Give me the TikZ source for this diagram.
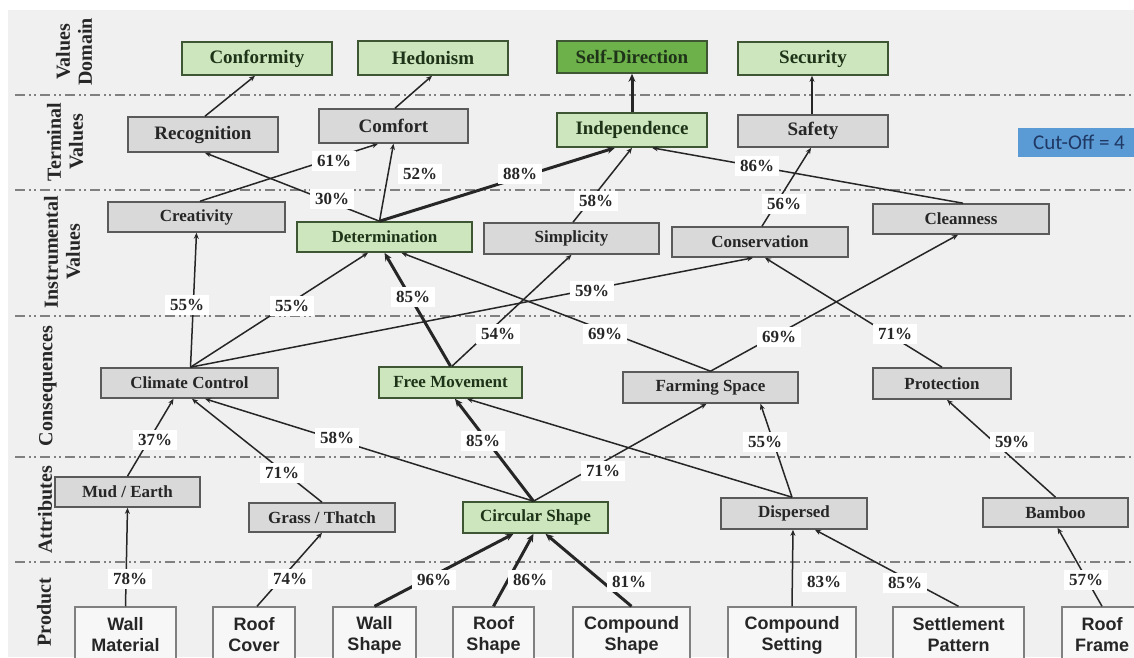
\documentclass[tikz,border=0pt]{standalone}
\usepackage{fontspec}
\setmainfont{Liberation Serif}
\newfontfamily\prodfont{Liberation Sans}
\newfontfamily\calfont{Carlito}
\usetikzlibrary{arrows.meta}

\definecolor{bgc}{HTML}{F0F0F0}
\definecolor{boxgray}{HTML}{D9D9D9}
\definecolor{boxline}{HTML}{5A5A5A}
\definecolor{boxtext}{HTML}{262626}
\definecolor{lgreen}{HTML}{CDE6BD}
\definecolor{dgreen}{HTML}{6DB14A}
\definecolor{gline}{HTML}{3E5634}
\definecolor{gtext}{HTML}{1E3318}
\definecolor{prodfill}{HTML}{F7F7F7}
\definecolor{prodline}{HTML}{808080}
\definecolor{lk}{HTML}{262626}
\definecolor{sepc}{HTML}{808080}
\definecolor{cutblue}{HTML}{5B9BD5}
\definecolor{cuttext}{HTML}{1F3864}

\begin{document}
\begin{tikzpicture}[x=1pt,y=-1pt,
  sz/.style 2 args={minimum width=#1, minimum height=#2},
  box/.style={draw=boxline, line width=1.6pt, fill=boxgray, text=boxtext,
    font=\bfseries\fontsize{17}{20}\selectfont, inner sep=0pt},
  bigbox/.style={box, font=\bfseries\fontsize{19}{22}\selectfont},
  greenbox/.style={fill=lgreen, draw=gline, text=gtext},
  darkgreen/.style={fill=dgreen, draw=gline, text=gtext},
  prod/.style={draw=prodline, line width=1.4pt, fill=prodfill, text=boxtext,
    font=\prodfont\bfseries\fontsize{18}{21}\selectfont, align=center,
    inner sep=0pt, minimum height=56pt},
  band/.style={rotate=90, align=center, text=boxtext,
    font=\bfseries\fontsize{20}{22}\selectfont, inner sep=0pt},
  pct/.style={fill=white, text=boxtext, font=\bfseries\fontsize{17}{20}\selectfont,
    inner xsep=5pt, inner ysep=4pt},
  sepline/.style={draw=sepc, line width=1.8pt,
    dash pattern=on 10pt off 4pt on 2pt off 3pt on 2pt off 4pt},
  link/.style={draw=lk, line width=1.5pt, -{Stealth[length=6pt,width=5pt]}},
  strong/.style={draw=lk, line width=3pt, -{Stealth[length=8pt,width=7pt]}},
  cut/.style={fill=cutblue, text=cuttext, font=\calfont\fontsize{21}{24}\selectfont,
    inner sep=0pt}
]
\useasboundingbox (0,0) rectangle (1134,657);
\fill[bgc] (8,10) rectangle (1134,657);

% level separators
\foreach \yy in {95,190,316,457,562}
  \draw[sepline] (15,\yy) -- (1134,\yy);

% level names
\node[band] (bandval)  at (74,52)  {Values\\Domain};
\node[band] (bandterm) at (65,142) {Terminal\\Values};
\node[band] (bandinst) at (62,252) {Instrumental\\Values};
\node[band] (bandcons) at (48,386) {Consequences};
\node[band] (bandattr) at (45,510) {Attributes};
\node[band] (bandprod) at (44,612) {Product};

% values domain
\node[bigbox, greenbox, sz={150pt}{33pt}] (conf)  at (257,58.5) {Conformity};
\node[bigbox, greenbox, sz={150pt}{34pt}] (hed)   at (433,58)   {Hedonism};
\node[bigbox, darkgreen, sz={150pt}{32pt}] (selfd) at (632,57)   {Self-Direction};
\node[bigbox, greenbox, sz={150pt}{33pt}] (sec)   at (813,58.5) {Security};

% terminal values
\node[bigbox, sz={150pt}{35pt}] (rec)   at (203,134.5) {Recognition};
\node[bigbox, sz={149pt}{34pt}] (comf)  at (393.5,126) {Comfort};
\node[bigbox, greenbox, sz={150pt}{34pt}] (indep) at (632,130) {Independence};
\node[bigbox, sz={150pt}{32pt}] (safe)  at (813,131)   {Safety};
\node[cut, sz={122pt}{29pt}] (cutoff) at (1079,142) {Cut-Off = 4};

% instrumental values
\node[box, sz={177pt}{30pt}] (crea)  at (196.5,217) {Creativity};
\node[box, greenbox, sz={175pt}{30pt}] (det) at (384.5,237) {Determination};
\node[box, sz={175pt}{31pt}] (simp)  at (571.5,238.5) {Simplicity};
\node[box, sz={176pt}{30pt}] (cons)  at (760,242) {Conservation};
\node[box, sz={176pt}{30pt}] (clean) at (961,219) {Cleanness};

% consequences
\node[box, sz={177pt}{30pt}] (clim) at (189.5,383) {Climate Control};
\node[box, greenbox, sz={143pt}{31pt}] (free) at (450.5,382.5) {Free Movement};
\node[box, sz={175pt}{31pt}] (farm) at (710.5,387.5) {Farming Space};
\node[box, sz={138pt}{31pt}] (prot) at (942,383.5) {Protection};

% attributes
\node[box, sz={145pt}{30pt}] (mud)   at (127.5,492) {Mud / Earth};
\node[box, sz={146pt}{29pt}] (grass) at (322,517.5) {Grass / Thatch};
\node[box, greenbox, sz={145pt}{31pt}] (circ) at (535.5,517.5) {Circular Shape};
\node[box, sz={146pt}{31pt}] (disp)  at (794,513.5) {Dispersed};
\node[box, sz={145pt}{29pt}] (bamb)  at (1055.5,512.5) {Bamboo};

% product
\node[prod, minimum width=101pt] (wallm)   at (125.5,635) {Wall\\Material};
\node[prod, minimum width=82pt]  (roofc)   at (254,635)   {Roof\\Cover};
\node[prod, minimum width=83pt]  (walls)   at (374.5,635) {Wall\\Shape};
\node[prod, minimum width=81pt]  (roofs)   at (493.5,635) {Roof\\Shape};
\node[prod, minimum width=117pt] (comps)   at (631.5,635) {Compound\\Shape};
\node[prod, minimum width=128pt] (compset) at (792,635)   {Compound\\Setting};
\node[prod, minimum width=131pt] (settle)  at (958.5,635) {Settlement\\Pattern};
\node[prod, minimum width=80pt]  (rooff)   at (1102,635)  {Roof\\Frame};

% links: terminal -> values domain
\draw[link] ([xshift=2pt]rec.north) -- ([xshift=-2pt]conf.south);
\draw[link] ([xshift=1.5pt]comf.north) -- ([xshift=-1pt]hed.south);
\draw[strong] (indep.north) -- (selfd.south);
\draw[link] ([xshift=-1pt]safe.north) -- ([xshift=-1pt]sec.south);

% links: instrumental -> terminal
\draw[link] ([xshift=3.5pt]crea.north) -- ([xshift=-15.5pt]comf.south);
\draw[link] ([xshift=-5pt]det.north) -- ([xshift=2pt]rec.south);
\draw[link] ([xshift=-5pt]det.north) -- (comf.south);
\draw[strong] ([xshift=-5pt]det.north) -- ([xshift=-17pt]indep.south);
\draw[link] ([xshift=1.5pt]simp.north) -- (indep.south);
\draw[link] ([xshift=2pt]clean.north) -- ([xshift=20pt]indep.south);
\draw[link] ([xshift=2pt]cons.north) -- ([xshift=-2pt]safe.south);

% links: consequences -> instrumental
\draw[link] ([xshift=1pt]clim.north) -- (crea.south);
\draw[link] ([xshift=1pt]clim.north) -- ([xshift=-16.5pt]det.south);
\draw[link] ([xshift=1pt]clim.north) -- ([xshift=-7pt]cons.south);
\draw[strong] (free.north) -- (det.south);
\draw[link] ([xshift=1.5pt]free.north) -- (simp.south);
\draw[link] (farm.north) -- ([xshift=17pt]det.south);
\draw[link] (farm.north) -- ([xshift=-3pt]clean.south);
\draw[link] (prot.north) -- ([xshift=5pt]cons.south);

% links: attributes -> consequences
\draw[link] (mud.north) -- ([xshift=-16pt]clim.south);
\draw[link] (grass.north) -- ([xshift=2.5pt]clim.south);
\draw[link] ([xshift=-2pt]circ.north) -- ([xshift=15.5pt]clim.south);
\draw[strong] ([xshift=-2pt]circ.north) -- ([xshift=4.5pt]free.south);
\draw[link] ([xshift=-2pt]circ.north) -- ([xshift=-4pt]farm.south);
\draw[link] ([xshift=-2pt]disp.north) -- ([xshift=16.5pt]free.south);
\draw[link] ([xshift=-2pt]disp.north) -- ([xshift=50pt]farm.south);
\draw[link] (bamb.north) -- ([xshift=5pt]prot.south);

% links: product -> attributes
\draw[link] (wallm.north) -- (mud.south);
\draw[link] ([xshift=3pt]roofc.north) -- (grass.south);
\draw[strong] (walls.north) -- ([xshift=-22pt]circ.south);
\draw[strong] (roofs.north) -- ([xshift=-2pt]circ.south);
\draw[strong] (comps.north) -- ([xshift=10pt]circ.south);
\draw[link] (compset.north) -- ([xshift=-1pt]disp.south);
\draw[link] (settle.north) -- ([xshift=21pt]disp.south);
\draw[link] (rooff.north) -- ([xshift=2pt]bamb.south);

% link strengths
\node[pct] (p61)  at (334,161) {61\%};
\node[pct] (p30)  at (332,199) {30\%};
\node[pct] (p52)  at (420,174) {52\%};
\node[pct] (p88)  at (520,174) {88\%};
\node[pct] (p58a) at (596,201) {58\%};
\node[pct] (p86a) at (757,166) {86\%};
\node[pct] (p56)  at (784,204) {56\%};
\node[pct] (p55a) at (187,305) {55\%};
\node[pct] (p55b) at (292,306) {55\%};
\node[pct] (p85a) at (413,297) {85\%};
\node[pct] (p59a) at (592,291) {59\%};
\node[pct] (p54)  at (498,334) {54\%};
\node[pct] (p69a) at (605,334) {69\%};
\node[pct] (p69b) at (779,337) {69\%};
\node[pct] (p71a) at (895,334) {71\%};
\node[pct] (p37)  at (155,440) {37\%};
\node[pct] (p58b) at (337,438) {58\%};
\node[pct] (p71b) at (282,473) {71\%};
\node[pct] (p85b) at (483,441) {85\%};
\node[pct] (p71c) at (603,471) {71\%};
\node[pct] (p55c) at (765,442) {55\%};
\node[pct] (p59b) at (1012,442) {59\%};
\node[pct] (p78)  at (130,579) {78\%};
\node[pct] (p74)  at (290,579) {74\%};
\node[pct] (p96)  at (434,580) {96\%};
\node[pct] (p86b) at (530,580) {86\%};
\node[pct] (p81)  at (629,582) {81\%};
\node[pct] (p83)  at (824,582) {83\%};
\node[pct] (p85c) at (905,583) {85\%};
\node[pct] (p57)  at (1086,580) {57\%};
\end{tikzpicture}
\end{document}
